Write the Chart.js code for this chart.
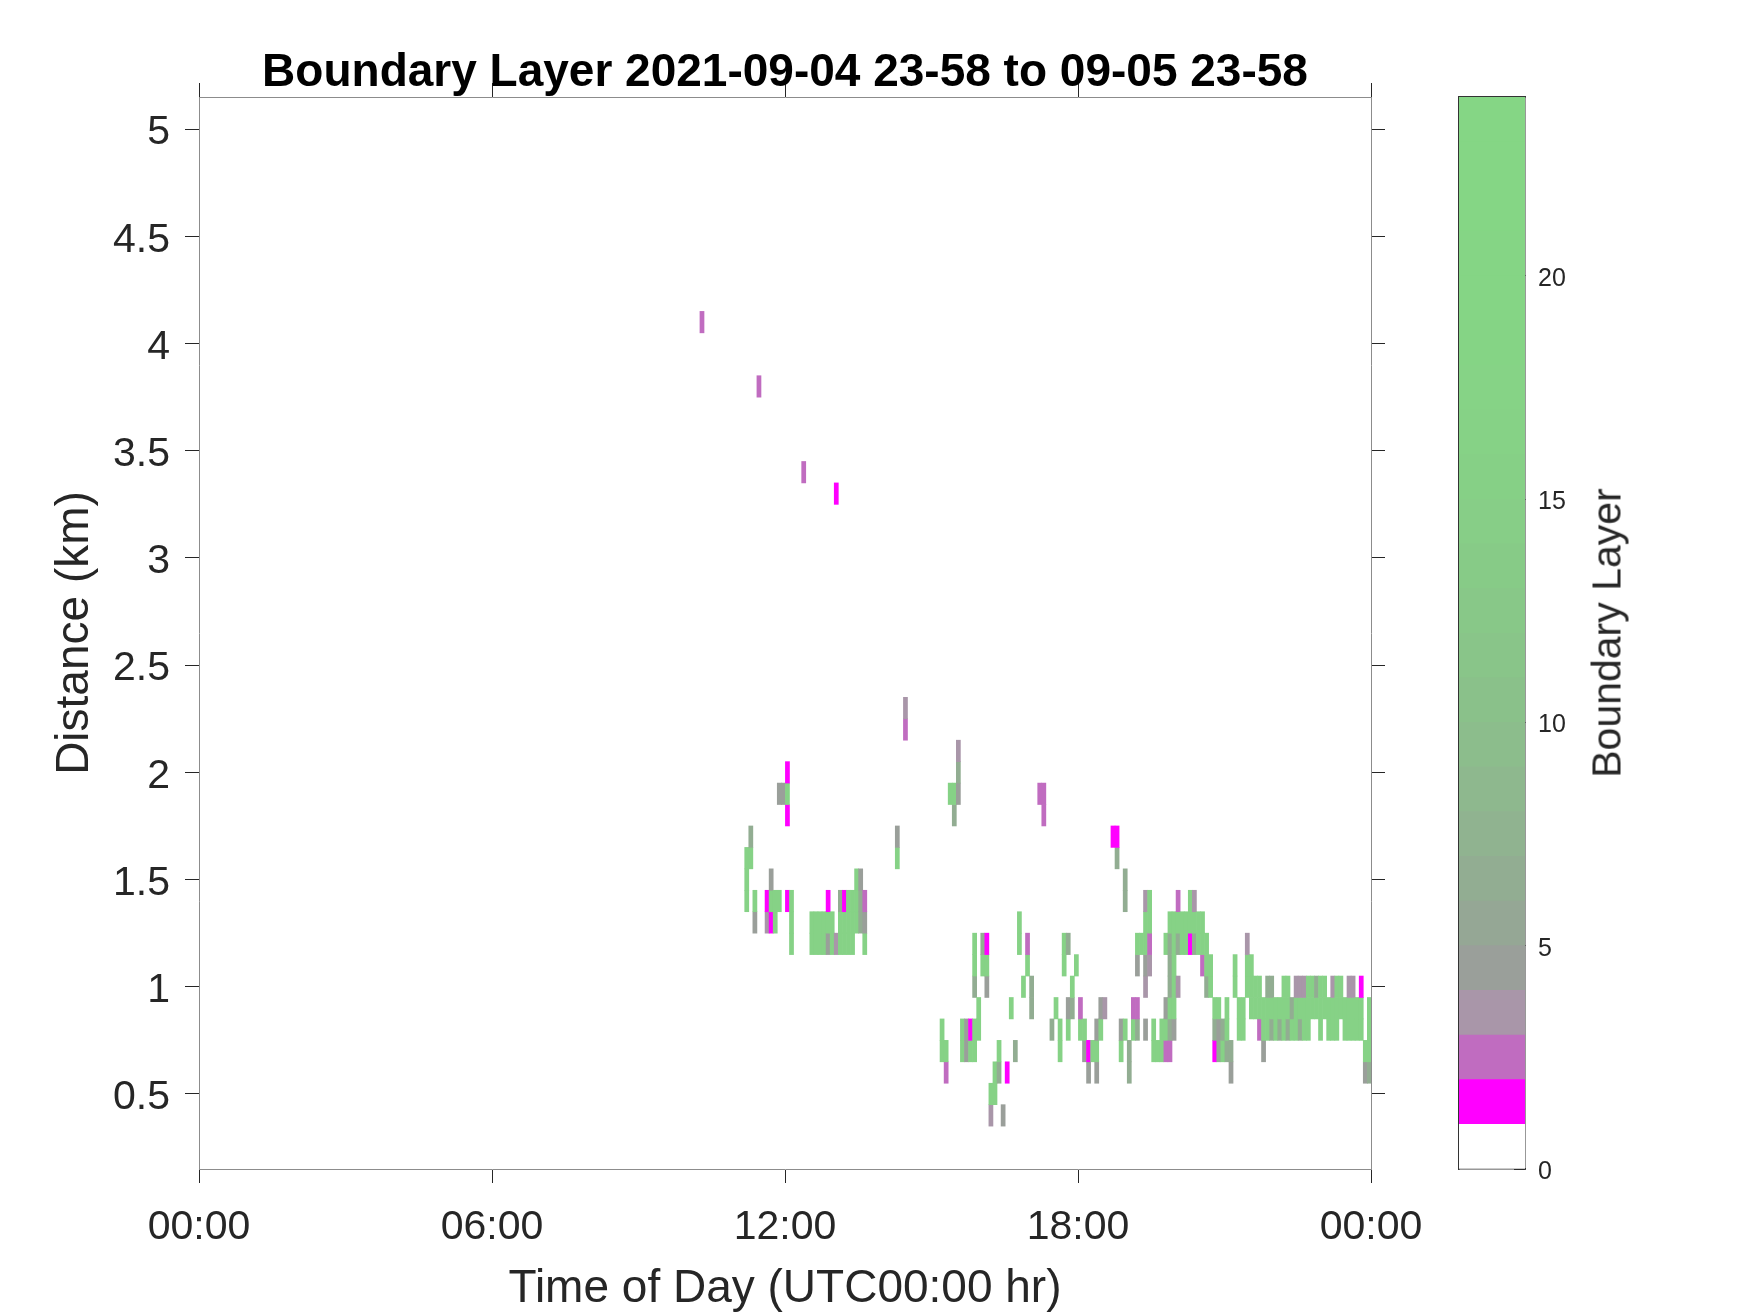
<!DOCTYPE html>
<html>
<head>
<meta charset="utf-8">
<title>Boundary Layer</title>
<script src="https://cdn.jsdelivr.net/npm/chart.js@4.4.1/dist/chart.umd.min.js"></script>
<style>
  body { margin: 0; background: #fff; }
  #wrap { position: relative; width: 1750px; height: 1313px; }
  #main { position: absolute; left: 0; top: 0; }
  #bar { position: absolute; left: 1440px; top: 0; }
  #cbLabel {
    position: absolute; left: 1607px; top: 633px;
    transform: translate(-50%, -50%) rotate(-90deg);
    font: 41px 'Liberation Sans', Arial, sans-serif; color: #262626; white-space: nowrap;
  }
</style>
</head>
<body>
<div id="wrap">
  <canvas id="main" width="1750" height="1313"></canvas>
  <canvas id="bar" width="310" height="1313"></canvas>
  <div id="cbLabel">Boundary Layer</div>
</div>
<script>
// each run = one 5-minute column, cells stacked upward from runBase in 0.1 km steps
// cell codes: 1..4 = value band, g = grey-green (~6), G = green (~16)
const runTime = [
  '10:18',
  '11:13', '11:18', '11:23', '11:28', '11:38', '11:43', '11:48', '11:53', '11:53', '11:58',
  '12:03', '12:03', '12:08', '12:23', '12:33', '12:38', '12:43', '12:48', '12:53', '12:58',
  '13:03', '13:03', '13:08', '13:13', '13:18', '13:23', '13:28', '13:33', '13:38',
  '14:18', '14:28',
  '15:13', '15:18', '15:23', '15:28', '15:33', '15:38', '15:43', '15:48', '15:53', '15:53', '15:58',
  '16:03', '16:08', '16:13', '16:18', '16:23', '16:28', '16:33', '16:38', '16:43', '16:48', '16:53', '16:58',
  '17:03', '17:13', '17:18', '17:28', '17:33', '17:38', '17:43', '17:48', '17:48', '17:53', '17:58',
  '18:03', '18:08', '18:13', '18:18', '18:23', '18:28', '18:33', '18:43', '18:48', '18:53', '18:58', '18:58',
  '19:03', '19:08', '19:13', '19:13', '19:18', '19:23', '19:23', '19:28', '19:33', '19:38', '19:43', '19:48', '19:48', '19:53', '19:58',
  '20:03', '20:03', '20:08', '20:13', '20:18', '20:23', '20:28', '20:33', '20:38', '20:43', '20:48', '20:53', '20:58',
  '21:03', '21:08', '21:13', '21:18', '21:23', '21:28', '21:33', '21:38', '21:43', '21:48', '21:53', '21:58',
  '22:03', '22:08', '22:13', '22:18', '22:23', '22:28', '22:33', '22:38', '22:43', '22:48', '22:53', '22:58',
  '23:03', '23:08', '23:13', '23:18', '23:23', '23:28', '23:33', '23:38', '23:43', '23:48', '23:53', '23:58'
];
const runBase = [
  4.1,
  1.4, 1.6, 1.3, 3.8, 1.3, 1.3, 1.3, 1.4, 1.9, 1.9,
  1.4, 1.8, 1.2, 3.4, 1.2, 1.2, 1.2, 1.2, 1.2, 1.2,
  1.2, 3.3, 1.2, 1.2, 1.2, 1.2, 1.3, 1.3, 1.2,
  1.6, 2.2,
  0.7, 0.6, 1.9, 1.8, 1.9, 0.7, 0.7, 0.7, 0.7, 1.0, 0.8,
  1.1, 1.0, 0.4, 0.5, 0.6, 0.4, 0.6, 0.9, 0.7, 1.2, 1.0, 1.1,
  0.9, 1.9, 1.8, 0.8, 0.9, 0.7, 1.1, 0.8, 1.2, 0.9, 1.1,
  0.8, 0.7, 0.6, 0.7, 0.6, 0.8, 0.9, 1.7, 1.6, 0.7, 0.8, 1.4,
  0.6, 0.8, 0.8, 1.1, 1.2, 0.8, 1.0, 1.1, 0.7, 0.7, 0.7, 0.7, 1.2, 0.7, 0.8,
  1.0, 1.2, 1.2, 1.2, 1.2, 1.2, 1.2, 1.1, 1.0, 1.0, 0.7, 0.7, 0.7,
  0.7, 0.6, 1.0, 0.8, 0.8, 1.0, 0.9, 0.9, 0.8, 0.7, 0.8, 0.8,
  0.8, 0.8, 0.8, 0.8, 0.8, 0.8, 0.8, 0.8, 0.8, 0.9, 0.9, 0.8,
  0.9, 0.8, 0.8, 0.8, 0.9, 0.8, 0.8, 0.8, 0.8, 0.8, 0.6, 0.6
];
const runCells = [
  '2',
  'GGG', 'Gg', '4G', '2', '31', '1G4', 'GG', 'G', '4', '4',
  '1', '1G1', 'GGG', '2', 'GG', 'GG', 'GG', 'GG', '4G1', 'GG',
  '3', '1', 'GGg', 'GG1', 'GGG', 'GGG', 'GGG', 'gg4', 'G42',
  'G4', '23',
  'GG', '2G', 'G', 'gG', '4g3', 'GG', '44', 'G1', 'GG', 'gGG', 'GG',
  'Gg', '4G1', '3G', 'GG', 'gG', '4', '1', 'G', 'g', 'GG', 'G', 'G2',
  'gg', '2', '22', 'g', 'G', 'GG', 'GG', 'G4', 'g', 'gG', 'G',
  'G2', '4G', '41', 'G', '4G4', 'G4', '3', '1', 'g1', 'G4', 'G', 'gg',
  'gg', 'G2', 'g2', '4G', 'G', '4', '34GG3', '32GG', 'GG', 'G', 'GG', '2G4', 'G', '2gGgggG', '4GGGGG',
  '3', 'gG2', 'GG', 'GG', '1GG', 'gG3', 'GG', '2GG', 'gGG', 'GG', '1gG', 'g4G', 'Gg',
  'gGG', '4g', 'GG', 'GG', 'GG', 'GG3', 'GGG', 'GG', '2GG', '4GG', 'GGg', 'gGg',
  'GG', 'gG', 'GGG', 'gGG', 'Gg', 'GG3', 'gG3', 'GG3', 'GGG', 'GG', 'Gg', 'GGG',
  'GG', 'GG', 'GG3', 'GGG', 'GG', 'GG', 'GG3', 'GG3', 'GG', 'GG1', '4G', 'gGGG'
];
const codeValue = { '1': 1.5, '2': 2.5, '3': 3.5, '4': 4.5, 'g': 6.5, 'G': 16.5 };

const xTickHours = [0, 6, 12, 18, 24];
const xTickLabels = ['00:00', '06:00', '12:00', '18:00', '00:00'];
const yTicks = [0.5, 1, 1.5, 2, 2.5, 3, 3.5, 4, 4.5, 5];
const cbTicks = [0, 5, 10, 15, 20];

// colour map, one colour per unit band 0..24
const cmap = [
  '#ffffff', '#ff00ff', '#c06cc0', '#a996a9', '#9a9f9a', '#95a795', '#92ad92', '#90b390',
  '#8eb88e', '#8cbd8c', '#8ac18a', '#89c589', '#88c888', '#87cb87', '#87ce87', '#86d086',
  '#86d286', '#86d386', '#85d485', '#85d585', '#85d585', '#85d685', '#85d685', '#85d685'
];

const ink = '#262626';
const boxGrey = '#8c8c8c';
Chart.defaults.font.family = "'Liberation Sans', Arial, sans-serif";

function toHours(s) {
  const [h, m] = s.split(':').map(Number);
  return h + m / 60;
}
function colourOf(v) {
  return cmap[Math.min(cmap.length - 1, Math.floor(v))];
}
function fixTicks(list) {
  return scale => { scale.ticks = list.map(v => ({ value: v })); };
}

const cells = [];
runTime.forEach((t, i) => {
  const x = toHours(t);
  [...runCells[i]].forEach((c, k) => {
    const h = runBase[i] + k * 0.1;
    cells.push({ x: x, y: [h - 0.05, h + 0.05], v: codeValue[c] });
  });
});

const tickGrid = { display: true, drawOnChartArea: false, drawTicks: true, tickLength: 14, color: ink, offset: false };

new Chart(document.getElementById('main'), {
  type: 'bar',
  data: {
    datasets: [{
      data: cells,
      backgroundColor: ctx => colourOf(ctx.raw.v),
      borderWidth: 0,
      barPercentage: 1,
      categoryPercentage: 1,
      xAxisID: 'x',
      yAxisID: 'y'
    }]
  },
  options: {
    responsive: false,
    animation: false,
    layout: { padding: { left: 0, right: 365, top: 0, bottom: 0 } },
    plugins: {
      legend: { display: false },
      tooltip: { enabled: false },
      title: {
        display: true,
        fullSize: false,
        text: 'Boundary Layer 2021-09-04 23-58 to 09-05 23-58',
        color: '#000',
        font: { size: 46, weight: 'bold', lineHeight: 1 },
        padding: { top: 50, bottom: 0 }
      }
    },
    scales: {
      x: {
        type: 'linear', position: 'bottom', min: 0, max: 24, offset: false, z: 1,
        afterBuildTicks: fixTicks(xTickHours),
        afterFit: s => { s.height = 144; },
        ticks: { callback: (v, i) => xTickLabels[i], font: { size: 41 }, color: ink, padding: 20, maxRotation: 0, autoSkip: false },
        grid: tickGrid,
        border: { color: boxGrey, width: 1 },
        title: { display: true, text: 'Time of Day (UTC00:00 hr)', font: { size: 46, lineHeight: 1.05 }, color: ink, padding: 0 }
      },
      x2: {
        type: 'linear', position: 'top', min: 0, max: 24, offset: false, z: 1,
        afterBuildTicks: fixTicks(xTickHours),
        afterFit: s => { s.height = 1; },
        ticks: { display: false },
        grid: tickGrid,
        border: { color: boxGrey, width: 1 }
      },
      y: {
        type: 'linear', position: 'left', min: 0.15, max: 5.15, z: 1,
        afterBuildTicks: fixTicks(yTicks),
        afterFit: s => { s.width = 199; },
        ticks: { callback: v => String(v), font: { size: 41 }, color: ink, padding: 15, labelOffset: 4 },
        grid: tickGrid,
        border: { color: boxGrey, width: 1 },
        title: { display: true, text: 'Distance (km)', font: { size: 46 }, color: ink, padding: { top: 48, bottom: 0 } }
      },
      y2: {
        type: 'linear', position: 'right', min: 0.15, max: 5.15, z: 1,
        afterBuildTicks: fixTicks(yTicks),
        afterFit: s => { s.width = 14; },
        ticks: { display: false },
        grid: tickGrid,
        border: { color: boxGrey, width: 1 }
      }
    }
  }
});

// colour bar
const cbBorder = { color: '#333', width: 1.5 };
new Chart(document.getElementById('bar'), {
  type: 'bar',
  data: {
    labels: [''],
    datasets: cmap.map((c, i) => ({
      data: [[i, i + 1]],
      backgroundColor: c,
      borderWidth: 0,
      grouped: false,
      barPercentage: 1,
      categoryPercentage: 1,
      xAxisID: 'x',
      yAxisID: 'y'
    }))
  },
  options: {
    responsive: false,
    animation: false,
    layout: { padding: { left: 19, right: 0, top: 97, bottom: 144 } },
    plugins: { legend: { display: false }, tooltip: { enabled: false } },
    scales: {
      x: {
        type: 'category', position: 'bottom', z: 1,
        afterFit: s => { s.height = 0; },
        ticks: { display: false }, grid: { display: false },
        border: cbBorder
      },
      xTop: {
        type: 'category', position: 'top', z: 1,
        afterFit: s => { s.height = 0; },
        ticks: { display: false }, grid: { display: false },
        border: cbBorder
      },
      yL: {
        type: 'linear', position: 'left', min: 0, max: 24, z: 1,
        afterFit: s => { s.width = 0; },
        ticks: { display: false }, grid: { display: false },
        border: cbBorder
      },
      y: {
        type: 'linear', position: 'right', min: 0, max: 24, z: 1,
        afterBuildTicks: fixTicks(cbTicks),
        afterFit: s => { s.width = 225; },
        ticks: { font: { size: 25 }, color: ink, padding: 24, labelOffset: 3 },
        grid: { display: true, drawOnChartArea: false, drawTicks: true, tickLength: -11, color: ink },
        border: cbBorder
      }
    }
  }
});
</script>
</body>
</html>
